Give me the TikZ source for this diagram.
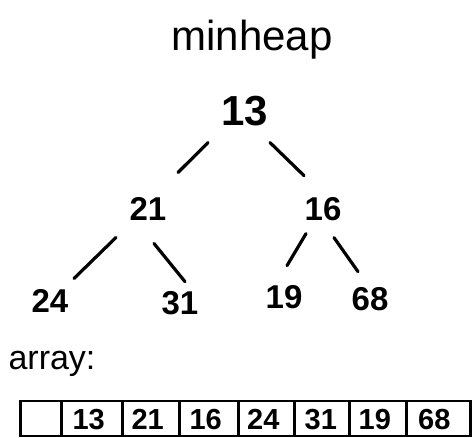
\documentclass[tikz,border=0pt]{standalone}
\usepackage{fontspec}
\setmainfont{Liberation Sans}
\begin{document}
\begin{tikzpicture}[x=1pt,y=-1pt,
  key/.style={inner sep=0pt, anchor=base, font=\fontsize{33}{33}\selectfont\bfseries},
  rootkey/.style={key, font=\fontsize{42}{42}\selectfont\bfseries},
  edge/.style={line width=3.2pt, line cap=round},
  cell/.style={draw, line width=2.5pt, minimum height=35pt, inner sep=0pt, anchor=west},
  val/.style={inner sep=0pt, anchor=base, font=\fontsize{29}{29}\selectfont\bfseries}]
\useasboundingbox (0,0) rectangle (473,437);

% title
\node[key, font=\fontsize{42}{42}\selectfont] (title) at (252,50) {minheap};

% heap keys
\node[rootkey] (n13) at (245,125) {13};
\node[key] (n21) at (148,220) {21};
\node[key] (n16) at (323,220) {16};
\node[key] (n24) at (50,312) {24};
\node[key] (n31) at (180,314) {31};
\node[key] (n19) at (284,308) {19};
\node[key] (n68) at (370,310) {68};

% parent-child links
\draw[edge] ([shift={(-37,32)}]n13.center) -- ([shift={(30,-36)}]n21.center);
\draw[edge] ([shift={(25,32)}]n13.center) -- ([shift={(-19,-33)}]n16.center);
\draw[edge] ([shift={(-32,29)}]n21.center) -- ([shift={(24,-22)}]n24.center);
\draw[edge] ([shift={(6,35)}]n21.center) -- ([shift={(5,-21)}]n31.center);
\draw[edge] ([shift={(-17,25)}]n16.center) -- ([shift={(3,-31)}]n19.center);
\draw[edge] ([shift={(11,29)}]n16.center) -- ([shift={(-12,-27)}]n68.center);

% array representation
\node[key, font=\fontsize{34}{34}\selectfont] (arr) at (52,369) {array:};

\node[cell, minimum width=41pt] (c0) at (19,418.5) {};
\node[cell, minimum width=61pt] (c1) at (60,418.5) {};
\node[cell, minimum width=57pt] (c2) at (121,418.5) {};
\node[cell, minimum width=59pt] (c3) at (178,418.5) {};
\node[cell, minimum width=56pt] (c4) at (237,418.5) {};
\node[cell, minimum width=55pt] (c5) at (293,418.5) {};
\node[cell, minimum width=57pt] (c6) at (348,418.5) {};
\node[cell, minimum width=64pt] (c7) at (405,418.5) {};

\node[val] (v1) at ([shift={(-3,10.5)}]c1.center) {13};
\node[val] (v2) at ([shift={(-3,10.5)}]c2.center) {21};
\node[val] (v3) at ([shift={(-3,10.5)}]c3.center) {16};
\node[val] (v4) at ([shift={(-3,10.5)}]c4.center) {24};
\node[val] (v5) at ([shift={(-1,10.5)}]c5.center) {31};
\node[val] (v6) at ([shift={(-3,10.5)}]c6.center) {19};
\node[val] (v7) at ([shift={(-4,10.5)}]c7.center) {68};
\end{tikzpicture}
\end{document}
